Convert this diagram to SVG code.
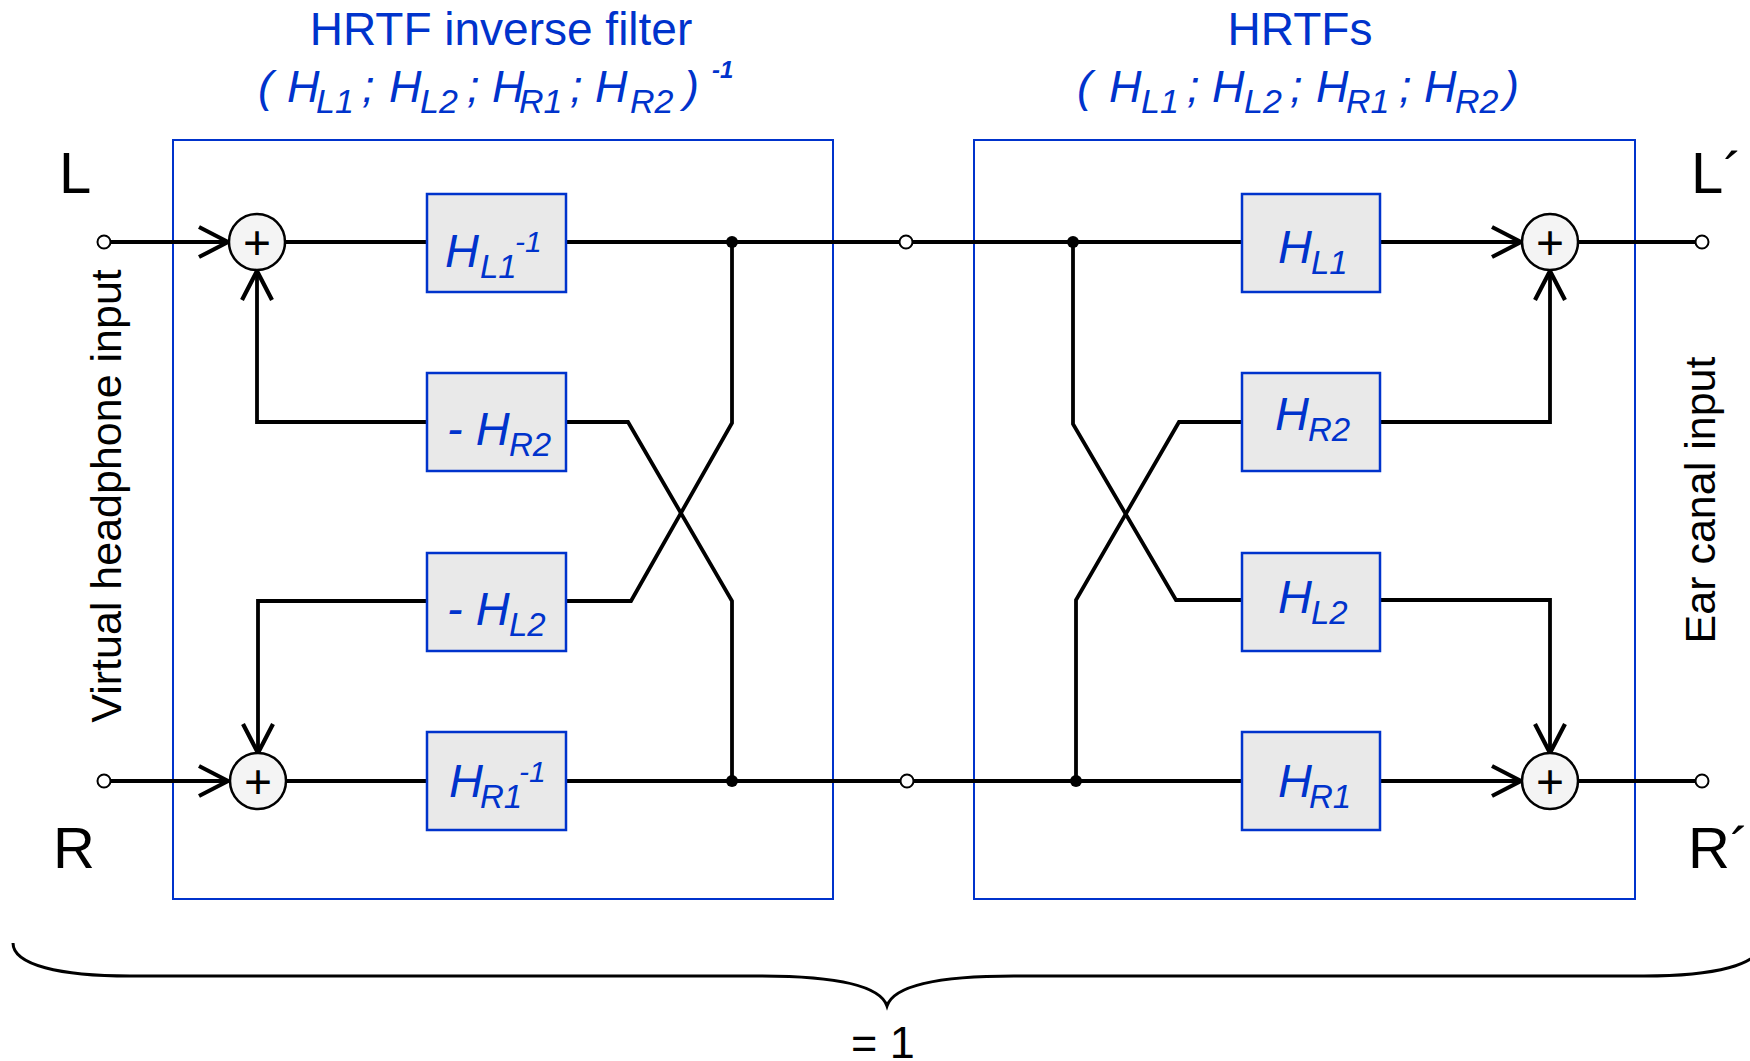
<svg xmlns="http://www.w3.org/2000/svg" width="1750" height="1061" viewBox="0 0 1750 1061">
<defs>
<style>
.bg{fill:#ffffff}
.frame{fill:none;stroke:#0033cc;stroke-width:2}
.blk{fill:#e9e9e9;stroke:#0033cc;stroke-width:2.5}
.sum{fill:#f4f4f4;stroke:#000;stroke-width:2.5}
.term{fill:#fff;stroke:#000;stroke-width:2}
.dot{fill:#000}
.w{fill:none;stroke:#000;stroke-width:3.8}
.brace{fill:none;stroke:#000;stroke-width:3}
.plus{font-family:"Liberation Sans",Arial,sans-serif;font-size:48px;fill:#000;text-anchor:middle}
.blue{font-family:"Liberation Sans",Arial,sans-serif;fill:#0033cc}
.it{font-style:italic}
.m{font-size:47px}
.s{font-size:33px}
.sup{font-size:30px}
.t1{font-size:46px;text-anchor:middle}
.t2{font-size:45px}
.t2s{font-size:34px}
.t2e{font-size:24px;font-weight:bold}
.blk-t{font-family:"Liberation Sans",Arial,sans-serif;fill:#000}
</style>
<marker id="arr" viewBox="0 0 34 34" refX="31" refY="17" markerWidth="34" markerHeight="34" markerUnits="userSpaceOnUse" orient="auto">
<path d="M 2 2 L 31 17 L 2 32" fill="none" stroke="#000" stroke-width="4.2"/>
</marker>
</defs>
<rect class="bg" x="0" y="0" width="1750" height="1061"/>

<g id="frame-inverse">
<rect class="frame" x="173" y="140" width="660" height="759"/>
<text class="blue t1" x="501" y="45">HRTF inverse filter</text>
<text class="blue it t2" y="102"><tspan x="258">(</tspan><tspan x="287">H</tspan><tspan class="t2s" x="316" y="113">L1</tspan><tspan x="362" y="102">;</tspan><tspan x="389">H</tspan><tspan class="t2s" x="420" y="113">L2</tspan><tspan x="467" y="102">;</tspan><tspan x="492">H</tspan><tspan class="t2s" x="519" y="113">R1</tspan><tspan x="570" y="102">;</tspan><tspan x="595">H</tspan><tspan class="t2s" x="630" y="113">R2</tspan><tspan x="684" y="102">)</tspan><tspan class="t2e" x="712" y="78">-1</tspan></text>
</g>

<g id="frame-hrtf">
<rect class="frame" x="974" y="140" width="661" height="759"/>
<text class="blue t1" x="1300" y="45">HRTFs</text>
<text class="blue it t2" y="102"><tspan x="1077">(</tspan><tspan x="1109">H</tspan><tspan class="t2s" x="1141" y="113">L1</tspan><tspan x="1187" y="102">;</tspan><tspan x="1212">H</tspan><tspan class="t2s" x="1244" y="113">L2</tspan><tspan x="1290" y="102">;</tspan><tspan x="1316">H</tspan><tspan class="t2s" x="1346" y="113">R1</tspan><tspan x="1399" y="102">;</tspan><tspan x="1424">H</tspan><tspan class="t2s" x="1455" y="113">R2</tspan><tspan x="1504" y="102">)</tspan></text>
</g>

<g id="connectors">
<path class="w" d="M 111 242 H 228" marker-end="url(#arr)"/>
<path class="w" d="M 285 242 H 427"/>
<path class="w" d="M 566 242 H 900"/>
<path class="w" d="M 732 242 V 423 L 631 601 H 566"/>
<path class="w" d="M 566 422 H 628 L 732 601 V 781"/>
<path class="w" d="M 427 422 H 257 V 271" marker-end="url(#arr)"/>
<path class="w" d="M 427 601 H 258 V 753" marker-end="url(#arr)"/>
<path class="w" d="M 111 781 H 228" marker-end="url(#arr)"/>
<path class="w" d="M 285 781 H 427"/>
<path class="w" d="M 566 781 H 900"/>
<path class="w" d="M 912 242 H 1242"/>
<path class="w" d="M 1073 242 V 424 L 1176 600 H 1242"/>
<path class="w" d="M 1242 422 H 1179 L 1076 600 V 781"/>
<path class="w" d="M 913 781 H 1242"/>
<path class="w" d="M 1380 242 H 1521" marker-end="url(#arr)"/>
<path class="w" d="M 1578 242 H 1695"/>
<path class="w" d="M 1380 422 H 1550 V 271" marker-end="url(#arr)"/>
<path class="w" d="M 1380 600 H 1550 V 753" marker-end="url(#arr)"/>
<path class="w" d="M 1380 781 H 1521" marker-end="url(#arr)"/>
<path class="w" d="M 1578 781 H 1695"/>
<circle class="dot" cx="732" cy="242" r="6"/>
<circle class="dot" cx="732" cy="781" r="6"/>
<circle class="dot" cx="1073" cy="242" r="6"/>
<circle class="dot" cx="1076" cy="781" r="6"/>
</g>

<g id="term-L"><circle class="term" cx="104" cy="242" r="6.5"/></g>
<g id="term-R"><circle class="term" cx="104" cy="781" r="6.5"/></g>
<g id="term-mid-top"><circle class="term" cx="906" cy="242" r="6.5"/></g>
<g id="term-mid-bot"><circle class="term" cx="907" cy="781" r="6.5"/></g>
<g id="term-Lp"><circle class="term" cx="1702" cy="242" r="6.5"/></g>
<g id="term-Rp"><circle class="term" cx="1702" cy="781" r="6.5"/></g>

<g id="sum-left-top"><circle class="sum" cx="257" cy="242" r="28"/><text class="plus" x="257" y="259">+</text></g>
<g id="sum-left-bot"><circle class="sum" cx="258" cy="781" r="28"/><text class="plus" x="258" y="798">+</text></g>
<g id="sum-right-top"><circle class="sum" cx="1550" cy="242" r="28"/><text class="plus" x="1550" y="259">+</text></g>
<g id="sum-right-bot"><circle class="sum" cx="1550" cy="781" r="28"/><text class="plus" x="1550" y="798">+</text></g>

<g id="blk-HL1inv"><rect class="blk" x="427" y="194" width="139" height="98"/>
<text class="blue it m" x="445" y="267">H<tspan class="s" x="480" y="278">L1</tspan><tspan class="sup" x="515" y="252">-1</tspan></text></g>
<g id="blk-mHR2"><rect class="blk" x="427" y="373" width="139" height="98"/>
<text class="blue it m" x="447" y="445">- H<tspan class="s" x="509" y="456">R2</tspan></text></g>
<g id="blk-mHL2"><rect class="blk" x="427" y="553" width="139" height="98"/>
<text class="blue it m" x="447" y="625">- H<tspan class="s" x="509" y="636">L2</tspan></text></g>
<g id="blk-HR1inv"><rect class="blk" x="427" y="732" width="139" height="98"/>
<text class="blue it m" x="449" y="797">H<tspan class="s" x="480" y="808">R1</tspan><tspan class="sup" x="519" y="782">-1</tspan></text></g>

<g id="blk-HL1"><rect class="blk" x="1242" y="194" width="138" height="98"/>
<text class="blue it m" x="1278" y="263">H<tspan class="s" x="1311" y="274">L1</tspan></text></g>
<g id="blk-HR2"><rect class="blk" x="1242" y="373" width="138" height="98"/>
<text class="blue it m" x="1275" y="430">H<tspan class="s" x="1308" y="441">R2</tspan></text></g>
<g id="blk-HL2"><rect class="blk" x="1242" y="553" width="138" height="98"/>
<text class="blue it m" x="1278" y="613">H<tspan class="s" x="1311" y="624">L2</tspan></text></g>
<g id="blk-HR1"><rect class="blk" x="1242" y="732" width="138" height="98"/>
<text class="blue it m" x="1278" y="797">H<tspan class="s" x="1309" y="808">R1</tspan></text></g>

<g id="labels">
<text class="blk-t" x="59" y="193" font-size="58">L</text>
<text class="blk-t" x="53" y="868" font-size="58">R</text>
<text class="blk-t" x="1691" y="193" font-size="58">L´</text>
<text class="blk-t" x="1688" y="868" font-size="58">R´</text>
<text class="blk-t" font-size="43" text-anchor="middle" transform="translate(121,496) rotate(-90)">Virtual headphone input</text>
<text class="blk-t" font-size="43" text-anchor="middle" transform="translate(1715,500) rotate(-90)">Ear canal input</text>
</g>

<g id="brace">
<path class="brace" d="M 13 943 C 13 965 60 976 130 976 L 760 976 C 835 976 880 985 887 1006 C 894 985 939 976 1014 976 L 1644 976 C 1714 976 1761 965 1761 943"/>
<text class="blk-t" x="851" y="1058" font-size="45">= 1</text>
</g>
</svg>
